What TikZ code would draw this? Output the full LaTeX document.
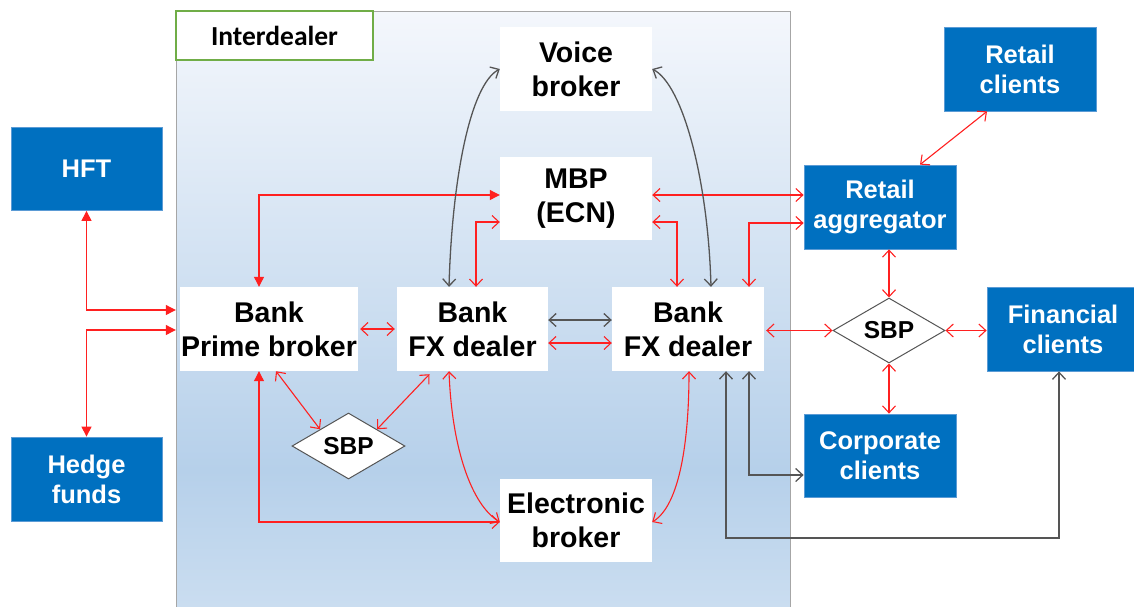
\documentclass[tikz,border=0pt]{standalone}
\usepackage{fontspec}
\setmainfont{Liberation Sans}
\newfontfamily\calfont{Carlito}
\usetikzlibrary{arrows.meta,shapes.geometric,calc}
\definecolor{cblue}{HTML}{0070C0}
\definecolor{cblueedge}{HTML}{5B9BD5}
\definecolor{cred}{HTML}{FF2020}
\definecolor{cdark}{HTML}{555555}
\definecolor{gtop}{HTML}{F4F7FC}
\definecolor{gmid}{HTML}{B6D0EA}
\definecolor{gbot}{HTML}{CADDF0}
\definecolor{cgreen}{HTML}{70AD47}
\tikzset{
  whitebox/.style={fill=white, draw=none, inner sep=0pt, minimum width=152pt, minimum height=84pt, align=center,
    font=\fontsize{28.5}{34}\selectfont\bfseries},
  bluebox/.style={fill=cblue, draw=cblueedge, line width=0.8pt, inner sep=0pt, minimum width=152pt, minimum height=84pt,
    align=center, text=white, font=\fontsize{25.5}{30}\selectfont\bfseries},
  sbpbox/.style={diamond, fill=white, draw=cdark, line width=1pt, inner sep=0pt, aspect=1.7,
    minimum width=113pt, minimum height=66pt, font=\fontsize{24.5}{28}\selectfont\bfseries},
  rl/.style={draw=cred, line width=1.1pt},
  dk/.style={draw=cdark, line width=1.3pt},
  oo/.style={{Straight Barb[length=7pt,width=13pt]}-{Straight Barb[length=7pt,width=13pt]}},
  ff/.style={{Triangle[length=10pt,width=10pt]}-{Triangle[length=10pt,width=10pt]}},
  fo/.style={{Triangle[length=10pt,width=10pt]}-{Straight Barb[length=7pt,width=13pt]}},
}
\begin{document}
\begin{tikzpicture}[x=1pt,y=-1pt]
\useasboundingbox (0,0) rectangle (1134,606);
\begin{scope}
\clip (0,0) rectangle (1134,606);
% interdealer background
\shade[top color=gtop, bottom color=gmid] (176,11) rectangle (790,470);
\shade[top color=gmid, bottom color=gbot] (176,470) rectangle (790,606);
\draw[draw=gray!70, line width=0.8pt] (176,612) -- (176,11) -- (790,11) -- (790,612);
\node[fill=white, draw=cgreen, line width=1.2pt, minimum width=197pt, minimum height=49pt, inner sep=0pt,
  font=\calfont\fontsize{27.5}{30}\selectfont\bfseries] (lab) at (274.5,35.5) {Interdealer};

% white nodes
\node[whitebox] (voice) at (576,69) {Voice\\broker};
\node[whitebox, minimum height=83pt] (mbp) at (576,198.5) {MBP\\(ECN)};
\node[whitebox, minimum width=178pt] (pb) at (269,329) {Bank\\Prime broker};
\node[whitebox, minimum width=151pt] (fx1) at (472.5,329) {Bank\\FX dealer};
\node[whitebox] (fx2) at (688,329) {Bank\\FX dealer};
\node[whitebox, minimum height=83pt] (eb) at (576,520.5) {Electronic\\broker};
\node[sbpbox] (sbpL) at (348.5,446) {SBP};
\node[sbpbox, minimum width=112pt, minimum height=65pt] (sbpR) at (889,330.5) {SBP};

% blue nodes
\node[bluebox, minimum width=151pt, minimum height=83pt] (hft) at (86.5,169) {HFT};
\node[bluebox, minimum width=151pt] (hf) at (86.5,479) {Hedge\\funds};
\node[bluebox] (rc) at (1020,69) {Retail\\clients};
\node[bluebox] (ra) at (880,207) {Retail\\aggregator};
\node[bluebox] (fc) at (1063,329) {Financial\\clients};
\node[bluebox, minimum height=83pt] (cc) at (880,455.5) {Corporate\\clients};

% red connectors
\draw[rl, ff] (hft.south) |- ([xshift=-4pt,yshift=19pt]pb.west);
\draw[rl, ff] (hf.north) |- ([xshift=-4pt,yshift=-1pt]pb.west);
\draw[rl, ff] ([xshift=-10pt]pb.north) |- ([yshift=3.5pt]mbp.west);
\draw[rl, fo] ([xshift=-10pt]pb.south) |- ([yshift=-1.5pt]eb.west);
\draw[rl, oo] ([xshift=2pt]pb.east) -- ([xshift=-2pt]fx1.west);
\draw[rl, oo] ([xshift=7pt]pb.south) -- (sbpL.north west);
\draw[rl, oo] ([xshift=-43pt,yshift=-3pt]fx1.south) -- (sbpL.north east);
\draw[rl, oo] ([xshift=-23.5pt]fx1.south) .. controls (452,450) and (472,505) .. ([yshift=-1.5pt]eb.west);
\draw[rl, oo] ([yshift=-1.5pt]eb.east) .. controls (680,505) and (689,440) .. ([xshift=1pt]fx2.south);
\draw[rl, oo] ([yshift=-14pt]fx1.east) -- ([yshift=-14pt]fx2.west);
\draw[rl, oo] ([xshift=3.5pt]fx1.north) |- ([yshift=-23.5pt]mbp.west);
\draw[rl, oo] ([yshift=-23.5pt]mbp.east) -| ([xshift=-11pt]fx2.north);
\draw[rl, oo] ([yshift=3.5pt]mbp.east) -- ([yshift=12pt]ra.west);
\draw[rl, oo] ([xshift=61pt]fx2.north) |- ([yshift=-16pt]ra.west);
\draw[rl, oo] ([xshift=40pt]ra.north) -- ([xshift=-33pt]rc.south);
\draw[rl, oo] (ra.south -| sbpR.north) -- (sbpR.north);
\draw[rl, oo] ([xshift=2pt]fx2.east |- sbpR.west) -- (sbpR.west);
\draw[rl, oo] (sbpR.east) -- (fc.west |- sbpR.east);
\draw[rl, oo] (sbpR.south) -- (cc.north -| sbpR.south);

% dark connectors
\draw[dk, oo] ([yshift=9pt]fx1.east) -- ([yshift=9pt]fx2.west);
\draw[dk, oo] (voice.west) .. controls (470,85) and (452,180) .. ([xshift=-23.5pt]fx1.north);
\draw[dk, oo] (voice.east) .. controls (683,85) and (708,180) .. ([xshift=23pt]fx2.north);
\draw[dk, oo] ([xshift=61pt]fx2.south) |- ([yshift=-19.5pt]cc.west);
\coordinate (lowturn) at (726,538);
\draw[dk, oo] ([xshift=38pt]fx2.south) -- (lowturn) -| ([xshift=-4pt]fc.south);
\end{scope}
\end{tikzpicture}
\end{document}
